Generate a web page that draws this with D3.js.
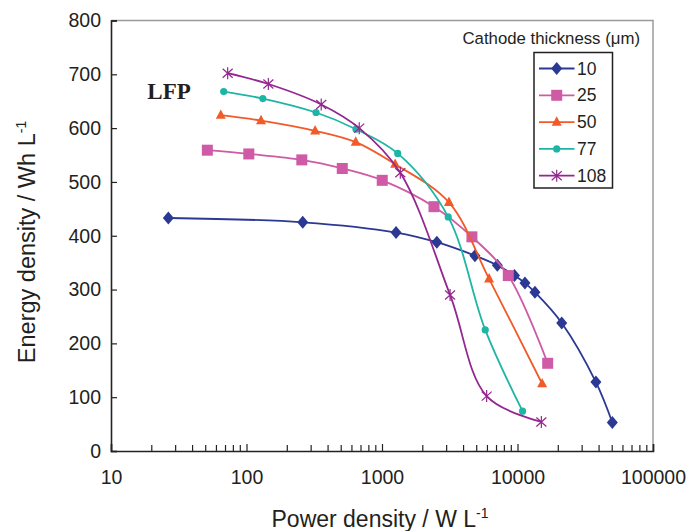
<!DOCTYPE html>
<html>
<head>
<meta charset="utf-8">
<script src="https://cdn.jsdelivr.net/npm/d3@7"></script>
<style>
  body { margin: 0; background: #fff; }
  svg { display: block; font-family: Arial, "Liberation Sans", sans-serif; }
</style>
</head>
<body>
<svg id="chart" width="686" height="531"></svg>
<script>
// Data (power density W/L, energy density Wh/L)
const thicknesses = ["10", "25", "50", "77", "108"];
const power10 = [26.5, 260, 1270, 2540, 4850, 7100, 9500, 11350, 13450, 21200, 37900, 50100];
const energy10 = [433, 425, 406, 388, 363, 345, 326, 312, 295, 238, 128, 53];
const power25 = [51.4, 104, 256, 509, 1004, 2420, 4610, 8550, 16700];
const energy25 = [559, 552, 541, 525, 503, 454, 398, 326, 163];
const power50 = [64.6, 128, 321, 640, 1250, 3120, 6170, 15200];
const energy50 = [624, 614, 595, 574, 533, 462, 320, 125];
const power77 = [67.9, 132, 326, 643, 1306, 3080, 5780, 10900];
const energy77 = [668, 655, 629, 598, 553, 435, 225, 74];
const power108 = [72.6, 145, 356, 679, 1365, 3180, 5920, 15000];
const energy108 = [702, 682, 644, 600, 517, 290, 102, 54];
const xTicks = [10, 100, 1000, 10000, 100000];
const yTicks = [0, 100, 200, 300, 400, 500, 600, 700, 800];

const series = [
  { name: thicknesses[0], xs: power10, ys: energy10, color: "#2b3894", marker: "diamond" },
  { name: thicknesses[1], xs: power25, ys: energy25, color: "#cf5aa6", marker: "square" },
  { name: thicknesses[2], xs: power50, ys: energy50, color: "#f15a29", marker: "triangle" },
  { name: thicknesses[3], xs: power77, ys: energy77, color: "#1fb5a6", marker: "circle" },
  { name: thicknesses[4], xs: power108, ys: energy108, color: "#93278f", marker: "asterisk" }
];

const svg = d3.select("#chart");
const margin = { top: 20.5, right: 33, bottom: 80, left: 111 };
const width = 686, height = 531;
const innerWidth = width - margin.left - margin.right;
const innerHeight = height - margin.top - margin.bottom;

const g = svg.append("g").attr("transform", `translate(${margin.left},${margin.top})`);

const x = d3.scaleLog().domain([10, 100000]).range([0, innerWidth]);
const y = d3.scaleLinear().domain([0, 800]).range([innerHeight, 0]);

// frame: gray top/right
g.append("path")
  .attr("d", `M0,0H${innerWidth}V${innerHeight}`)
  .attr("fill", "none")
  .attr("stroke", "#9a9a9a")
  .attr("stroke-width", 1.5);

// minor x ticks
const minorTicks = [];
for (let d = 10; d < 100000; d *= 10) {
  for (let k = 2; k <= 9; k++) minorTicks.push(d * k);
}

// x axis (ticks pointing inward)
const xAxis = g.append("g")
  .attr("transform", `translate(0,${innerHeight})`)
  .call(d3.axisBottom(x).tickValues(xTicks).tickFormat(d3.format("d")).tickSize(-7).tickPadding(19));
xAxis.select(".domain").attr("stroke", "#222").attr("stroke-width", 1.6);
xAxis.selectAll(".tick line").attr("stroke", "#222").attr("stroke-width", 1.2);
xAxis.selectAll("text").attr("fill", "#231f20").style("font-size", "19.5px");
xAxis.selectAll(".minor")
  .data(minorTicks)
  .enter()
  .append("line")
  .attr("x1", d => x(d))
  .attr("x2", d => x(d))
  .attr("y1", 0)
  .attr("y2", -6)
  .attr("stroke", "#222")
  .attr("stroke-width", 1.2);

// y axis (ticks pointing inward)
const yAxis = g.append("g")
  .call(d3.axisLeft(y).tickValues(yTicks).tickSize(-6).tickPadding(10));
yAxis.select(".domain").attr("stroke", "#222").attr("stroke-width", 1.6);
yAxis.selectAll(".tick line").attr("stroke", "#222").attr("stroke-width", 1.2);
yAxis.selectAll("text").attr("fill", "#231f20").style("font-size", "19.5px");

// lines
const line = d3.line()
  .x(d => x(d[0]))
  .y(d => y(d[1]))
  .curve(d3.curveCatmullRom.alpha(0.5));

function drawMarker(sel, type, color) {
  if (type === "diamond") {
    sel.append("path").attr("d", "M0,-6.5L5.5,0L0,6.5L-5.5,0Z").attr("fill", color);
  } else if (type === "square") {
    sel.append("rect").attr("x", -5.5).attr("y", -5.5).attr("width", 11).attr("height", 11).attr("fill", color);
  } else if (type === "triangle") {
    sel.append("path").attr("d", "M0,-5.8L5,3.6L-5,3.6Z").attr("fill", color);
  } else if (type === "circle") {
    sel.append("circle").attr("r", 3.6).attr("fill", color);
  } else if (type === "asterisk") {
    sel.append("path")
      .attr("d", "M0,-6V6M-5,-4.5L5,4.5M5,-4.5L-5,4.5")
      .attr("stroke", color).attr("stroke-width", 1.2).attr("fill", "none");
  }
}

series.forEach(s => {
  const pts = s.xs.map((v, i) => [v, s.ys[i]]);
  g.append("path")
    .datum(pts)
    .attr("fill", "none")
    .attr("stroke", s.color)
    .attr("stroke-width", 1.8)
    .attr("d", line);
  g.selectAll(null)
    .data(pts)
    .enter()
    .append("g")
    .attr("transform", d => `translate(${x(d[0])},${y(d[1])})`)
    .each(function() { drawMarker(d3.select(this), s.marker, s.color); });
});

// LFP label
g.append("text")
  .attr("x", x(26.5) - 21)
  .attr("y", y(654))
  .attr("font-family", "'Liberation Serif', 'Times New Roman', serif")
  .attr("font-weight", "bold")
  .attr("font-size", "23px")
  .attr("fill", "#231f20")
  .text("LFP");

// legend
const legend = svg.append("g");
legend.append("text")
  .attr("x", 640)
  .attr("y", 44)
  .attr("text-anchor", "end")
  .attr("font-size", "16.8px")
  .attr("fill", "#231f20")
  .text("Cathode thickness (μm)");
legend.append("rect")
  .attr("x", 534)
  .attr("y", 52.5)
  .attr("width", 78.5)
  .attr("height", 135.5)
  .attr("fill", "#fff")
  .attr("stroke", "#231f20")
  .attr("stroke-width", 1.5);
series.forEach((s, i) => {
  const ly = 68.5 + i * 26.8;
  const item = legend.append("g");
  item.append("line")
    .attr("x1", 539).attr("x2", 574.5)
    .attr("y1", ly).attr("y2", ly)
    .attr("stroke", s.color).attr("stroke-width", 1.8);
  drawMarker(item.append("g").attr("transform", `translate(556.7,${ly})`), s.marker, s.color);
  item.append("text")
    .attr("x", 577)
    .attr("y", ly + 6)
    .attr("font-size", "17.5px")
    .attr("fill", "#231f20")
    .text(s.name);
});

// axis titles
svg.append("text")
  .attr("transform", `translate(35,242) rotate(-90)`)
  .attr("text-anchor", "middle")
  .attr("font-size", "23.5px")
  .attr("fill", "#231f20")
  .html('Energy density / Wh L<tspan dy="-9" font-size="14px">-1</tspan>');

svg.append("text")
  .attr("x", 271.5)
  .attr("y", 527)
  .attr("font-size", "23px")
  .attr("fill", "#231f20")
  .html('Power density / W L<tspan dy="-9" font-size="14px">-1</tspan>');
</script>
</body>
</html>
